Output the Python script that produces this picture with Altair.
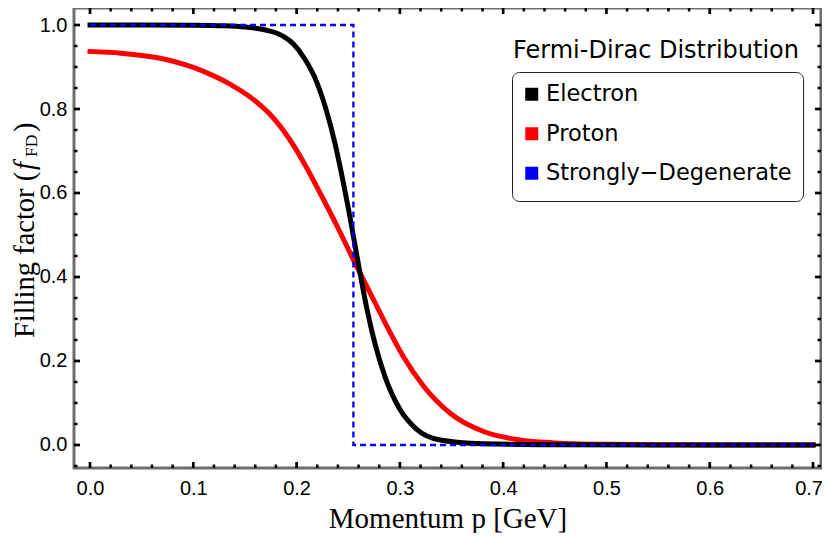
import altair as alt
import pandas as pd

# ---------------- data ----------------
series_names = ["Electron", "Proton", "Strongly\u2212Degenerate"]
series_colors = ["#000000", "#ff0000", "#0000ff"]

electron_p = [0.0, 0.05, 0.10, 0.13, 0.15, 0.17, 0.185, 0.197, 0.208, 0.219, 0.229,
              0.237, 0.244, 0.250, 0.256, 0.261, 0.268, 0.276, 0.286, 0.300, 0.316,
              0.339, 0.380, 0.45, 0.55, 0.70]
electron_f = [1.0, 1.0, 0.9995, 0.998, 0.995, 0.988, 0.976, 0.955, 0.919, 0.867, 0.795,
              0.720, 0.640, 0.565, 0.483, 0.415, 0.325, 0.240, 0.160, 0.085, 0.038,
              0.012, 0.003, 0.0005, 0.0, 0.0]

proton_p = [0.0, 0.03, 0.068, 0.10, 0.116, 0.135, 0.153, 0.164, 0.174, 0.194, 0.210,
            0.224, 0.239, 0.255, 0.271, 0.287, 0.303, 0.323, 0.349, 0.381, 0.413,
            0.45, 0.50, 0.55, 0.60, 0.70]
proton_f = [0.937, 0.933, 0.921, 0.899, 0.883, 0.860, 0.832, 0.811, 0.788, 0.725, 0.659,
            0.594, 0.522, 0.441, 0.363, 0.285, 0.212, 0.140, 0.075, 0.032, 0.013,
            0.005, 0.0015, 0.0005, 0.0002, 0.0]

degenerate_p = [0.0, 0.255, 0.255, 0.70]
degenerate_f = [1.0, 1.0, 0.0, 0.0]

x_major = [0.0, 0.1, 0.2, 0.3, 0.4, 0.5, 0.6, 0.7]
x_minor = [0.02, 0.04, 0.06, 0.08, 0.12, 0.14, 0.16, 0.18, 0.22, 0.24, 0.26, 0.28,
           0.32, 0.34, 0.36, 0.38, 0.42, 0.44, 0.46, 0.48, 0.52, 0.54, 0.56, 0.58,
           0.62, 0.64, 0.66, 0.68]
y_major = [0.0, 0.2, 0.4, 0.6, 0.8, 1.0]
y_minor = [-0.05, 0.05, 0.1, 0.15, 0.25, 0.3, 0.35, 0.45, 0.5, 0.55, 0.65, 0.7,
           0.75, 0.85, 0.9, 0.95]
edge_label_value = [0.7]
edge_label_text = ["0.7"]

# ---------------- layout ----------------
W, H = 747, 460
xs = alt.Scale(domain=[-0.0155, 0.7077], nice=False, zero=False)
ys = alt.Scale(domain=[-0.0548, 1.0405], nice=False, zero=False)
cs = alt.Scale(domain=series_names, range=series_colors)

LABEL_FONT = "Liberation Sans"
LABEL_SIZE = 20
X_LABEL_PAD = 10.5
SERIF = "Liberation Serif"

legend = alt.Legend(
    title=None, orient="none", legendX=438, legendY=64,
    symbolType="square", symbolSize=42, symbolStrokeWidth=6.5, symbolOffset=-2.5,
    symbolDash=[1, 0], symbolOpacity=1,
    labelFont="DejaVu Sans", labelFontSize=22.5, labelColor="black", labelOffset=3,
    rowPadding=6.5, padding=11, strokeColor="#222222", cornerRadius=7,
    fillColor="white", labelLimit=400,
)

x_axis = alt.Axis(
    values=x_major, format=".1f", ticks=False, tickSize=0, domain=False, grid=False,
    labelExpr="datum.value > 0.69 ? '' : datum.label",
    labelFont=LABEL_FONT, labelFontSize=LABEL_SIZE, labelColor="black", labelPadding=X_LABEL_PAD,
    title="Momentum p [GeV]", titleFont=SERIF, titleFontSize=29, titleFontWeight="normal",
    titleColor="black", titleBaseline="alphabetic", titleY=59,
)
y_axis = alt.Axis(
    values=y_major, format=".1f", ticks=False, tickSize=0, domain=False, grid=False,
    labelFont=LABEL_FONT, labelFontSize=LABEL_SIZE, labelColor="black", labelPadding=7,
    title=None,
)


def series_df(ps, fs, name):
    return pd.DataFrame({"p": ps, "f": fs, "series": name, "idx": range(len(ps))})


def curve(ps, fs, name, width, **mark):
    return alt.Chart(series_df(ps, fs, name)).mark_line(**mark).encode(
        x=alt.X("p:Q", scale=xs, axis=x_axis),
        y=alt.Y("f:Q", scale=ys, axis=y_axis),
        color=alt.Color("series:N", scale=cs, legend=legend),
        strokeWidth=alt.value(width),
        order="idx:Q",
    )


proton = curve(proton_p, proton_f, series_names[1], 5, interpolate="monotone", strokeCap="square")
electron = curve(electron_p, electron_f, series_names[0], 5, interpolate="monotone", strokeCap="square")
degenerate = curve(degenerate_p, degenerate_f, series_names[2], 2.3, strokeDash=[6, 4])


def tick_layer(vals, channel, side, length, width):
    df = pd.DataFrame({"t": vals})
    base = alt.Chart(df).mark_rule(color="black", strokeWidth=width)
    if channel == "x":
        enc = dict(x=alt.X("t:Q", scale=xs, axis=x_axis))
        if side == "bottom":
            enc.update(y=alt.value(H), y2=alt.value(H - length))
        else:
            enc.update(y=alt.value(0), y2=alt.value(length))
    else:
        enc = dict(y=alt.Y("t:Q", scale=ys, axis=y_axis))
        if side == "left":
            enc.update(x=alt.value(0), x2=alt.value(length))
        else:
            enc.update(x=alt.value(W), x2=alt.value(W - length))
    return base.encode(**enc)


ticks = [
    tick_layer(x_major, "x", "bottom", 6, 2.7),
    tick_layer(x_minor, "x", "bottom", 3.5, 2.5),
    tick_layer(x_major, "x", "top", 6, 2.7),
    tick_layer(x_minor, "x", "top", 3.5, 2.5),
    tick_layer(y_major, "y", "left", 6, 2.7),
    tick_layer(y_minor, "y", "left", 3.5, 2.5),
    tick_layer(y_major, "y", "right", 6, 2.7),
    tick_layer(y_minor, "y", "right", 3.5, 2.5),
]

# last x tick label, nudged so that it stays inside the page
edge_label = alt.Chart(pd.DataFrame({"t": edge_label_value, "s": edge_label_text})).mark_text(
    font=LABEL_FONT, fontSize=LABEL_SIZE, baseline="top", align="center", dx=-4, color="black"
).encode(x=alt.X("t:Q", scale=xs, axis=x_axis), y=alt.value(H + X_LABEL_PAD), text="s:N")


def label(text, x, y, size, font=SERIF, style="normal", angle=0, align="left"):
    return alt.Chart(pd.DataFrame({"t": [text]})).mark_text(
        font=font, fontSize=size, fontStyle=style, angle=angle, align=align,
        baseline="alphabetic", color="black",
    ).encode(text="t:N", x=alt.value(x), y=alt.value(y))


YT = -40.5  # baseline of the rotated y title
ytitle = [
    label("Filling factor (", YT, 330, 28.5, angle=270),
    label("f", YT, 162, 28.5, style="italic", angle=270),
    label("FD", YT + 3.4, 149, 17.5, angle=270),
    label(")", YT, 124, 28.5, angle=270),
]

legend_title = label("Fermi-Dirac Distribution", 439, 49.7, 24, font="DejaVu Sans")

chart = alt.layer(
    proton, electron, degenerate, *ticks, edge_label, *ytitle, legend_title
).properties(
    width=W, height=H,
    autosize=alt.AutoSizeParams(type="none"),
    padding={"left": 66, "top": 0, "right": 1, "bottom": 65},
    background="white",
).configure_view(
    stroke="#6e6e6e", strokeWidth=3, fill="white"
)

chart.save("out.html", embed_options={"renderer": "svg", "actions": False})
